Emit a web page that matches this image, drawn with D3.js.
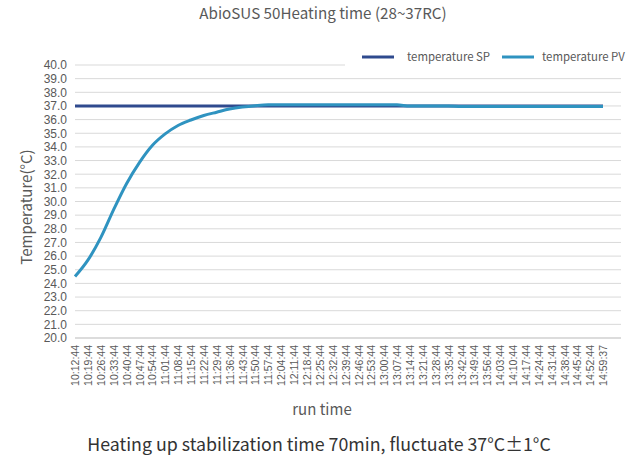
<!DOCTYPE html>
<html><head><meta charset="utf-8">
<script src="https://cdn.jsdelivr.net/npm/d3@7"></script>
<style>body{margin:0;background:#fff;}svg{display:block;}</style>
</head><body>
<svg id="c" width="636" height="463"></svg>
<script>
const timeLabels = ["10:12:44","10:19:44","10:26:44","10:33:44","10:40:44","10:47:44","10:54:44","11:01:44","11:08:44","11:15:44","11:22:44","11:29:44","11:36:44","11:43:44","11:50:44","11:57:44","12:04:44","12:11:44","12:18:44","12:25:44","12:32:44","12:39:44","12:46:44","12:53:44","13:00:44","13:07:44","13:14:44","13:21:44","13:28:44","13:35:44","13:42:44","13:49:44","13:56:44","14:03:44","14:10:44","14:17:44","14:24:44","14:31:44","14:38:44","14:45:44","14:52:44","14:59:37"];
const pvValues = [24.5,25.7,27.35,29.4,31.3,32.85,34.1,34.95,35.57,35.97,36.3,36.54,36.77,36.92,37.02,37.08,37.08,37.08,37.08,37.08,37.08,37.08,37.08,37.08,37.08,37.08,37.0,37.0,37.0,37.0,36.96,36.96,36.96,36.96,36.96,36.96,36.96,36.96,36.96,36.96,36.96,36.96];
const spValues = timeLabels.map(() => 37.0);
const yTicks = d3.range(20, 40.001, 1);
const seriesNames = ["temperature SP","temperature PV"];
const colors = ["#2f4a8e","#2f93c0"];

const svg = d3.select("#c");
const L = 75, R = 603, T = 65, B = 338;
const x = d3.scalePoint().domain(timeLabels).range([L, R]);
const y = d3.scaleLinear().domain([20, 40]).range([B, T]);

// gridlines
svg.append("g").selectAll("line").data(yTicks).join("line")
  .attr("x1", L).attr("x2", 621)
  .attr("y1", d => y(d)).attr("y2", d => y(d))
  .attr("stroke", d => d === 20 ? "#d0d0d0" : "#d9d9d9")
  .attr("stroke-width", d => d === 20 ? 1.5 : 1);

// y axis
const ya = svg.append("g").attr("transform", `translate(${L},0)`)
  .call(d3.axisLeft(y).tickValues(yTicks).tickFormat(d3.format(".1f")).tickSize(0).tickPadding(8));
ya.select(".domain").remove();
ya.selectAll("text").attr("fill", "#595959").style("font-family", "Liberation Sans, Arial, sans-serif").style("font-size", "12px");

// x axis
const xa = svg.append("g").attr("transform", `translate(0,${B})`)
  .call(d3.axisBottom(x).tickSize(0).tickPadding(0));
xa.select(".domain").remove();
xa.selectAll("text")
  .attr("fill", "#595959").style("font-family", "Liberation Sans, Arial, sans-serif").style("font-size", "10.5px")
  .attr("text-anchor", "end").attr("dy", "0.35em")
  .attr("transform", "translate(0,7) rotate(-90)").attr("x", 0).attr("y", 0);

// legend background covering gridline
svg.append("rect").attr("x", 345).attr("y", 45).attr("width", 280).attr("height", 24).attr("fill", "#fff");

const line = d3.line().x((d, i) => x(timeLabels[i])).y(d => y(d)).curve(d3.curveMonotoneX);
svg.append("path").datum(spValues).attr("d", line).attr("fill", "none").attr("stroke", colors[0]).attr("stroke-width", 3);
svg.append("path").datum(pvValues).attr("d", line).attr("fill", "none").attr("stroke", colors[1]).attr("stroke-width", 3);

// legend
const lg = [{x: 362, tx: 407}, {x: 502, tx: 542}];
lg.forEach((p, i) => {
  svg.append("line").attr("x1", p.x).attr("x2", p.x + 32).attr("y1", 57).attr("y2", 57)
    .attr("stroke", colors[i]).attr("stroke-width", 3);
  svg.append("text").attr("x", p.tx).attr("y", 61).text(seriesNames[i])
    .attr("fill", "#595959").style("font-family", "Noto Sans CJK SC, Noto Sans, sans-serif").style("font-size", "11.4px");
});

// titles
svg.append("text").attr("x", 323).attr("y", 19).attr("text-anchor", "middle").text("AbioSUS 50Heating time (28~37RC)")
  .attr("fill", "#595959").style("font-family", "Noto Sans CJK SC, Noto Sans, sans-serif").style("font-size", "15.2px");
svg.append("text").attr("transform", "translate(32,207) rotate(-90)").attr("text-anchor", "middle").text("Temperature(°C)")
  .attr("fill", "#595959").style("font-family", "Noto Sans CJK SC, Noto Sans, sans-serif").style("font-size", "15px");
svg.append("text").attr("x", 322).attr("y", 415).attr("text-anchor", "middle").text("run time")
  .attr("fill", "#595959").style("font-family", "Noto Sans CJK SC, Noto Sans, sans-serif").style("font-size", "15px");
svg.append("text").attr("x", 319).attr("y", 451).attr("text-anchor", "middle").text("Heating up stabilization time 70min, fluctuate 37°C±1°C")
  .attr("fill", "#333").style("font-family", "Noto Sans CJK SC, Noto Sans, sans-serif").style("font-size", "17.8px");
</script>
</body></html>
